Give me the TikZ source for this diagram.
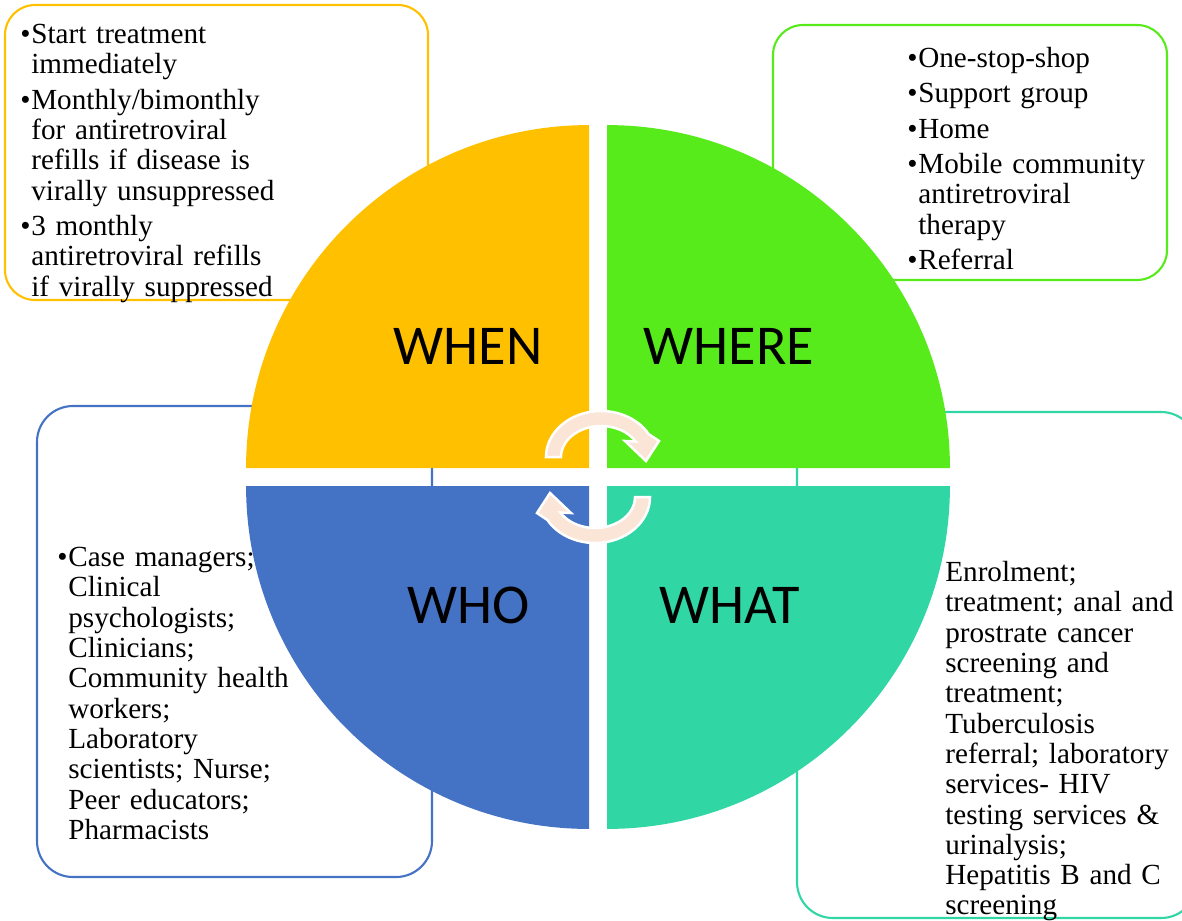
\documentclass[tikz,border=0pt]{standalone}
\usepackage{fontspec}
\setmainfont{Liberation Serif}
\newfontfamily\lblfont{Carlito}

\definecolor{whenc}{HTML}{FFC000}
\definecolor{wherec}{HTML}{57EB1B}
\definecolor{whoc}{HTML}{4472C4}
\definecolor{whatc}{HTML}{31D6A5}
\definecolor{peach}{HTML}{FBE5D6}

% bullet with hanging indent (first one, then the others)
\newcommand{\itmb}{\hangindent=0.22cm\hangafter=1\noindent\makebox[0.22cm][l]{\textbullet}}
\newcommand{\itm}{\par\itmb}

\tikzset{
  box/.style = {draw=#1, line width=1.2pt, fill=white},
  quad/.style = {fill=#1},
  lbl/.style = {font=\lblfont\fontsize{32}{38}\selectfont},
  list/.style = {anchor=north west, inner sep=0pt, text width=8cm, align=left,
    font=\fontsize{16.6}{17.25}\selectfont\setlength{\parskip}{0.1cm}},
  cyc/.style = {fill=peach, draw=white, line width=0.05cm, line join=miter}
}

\begin{document}
\begin{tikzpicture}[x=0.02cm, y=-0.02cm]
\useasboundingbox (0,0) rectangle (1182,920);
\clip (0,0) rectangle (1182,920);

% boxes behind the circle
\draw[box=whenc, rounded corners=0.6cm] (5,5) rectangle (428,300);
\draw[box=wherec, rounded corners=0.6cm] (773,25) rectangle (1167,280);
\draw[box=whoc, rounded corners=0.72cm] (37,406) rectangle (432,877);
\draw[box=whatc, rounded corners=0.72cm] (797,412) rectangle (1197,918);

% quadrants
\fill[quad=whenc] (589,468) -- ++(-6.86cm,0) arc[start angle=180, end angle=90, radius=6.86cm] -- cycle;
\fill[quad=wherec] (607,468) -- ++(0,6.86cm) arc[start angle=90, end angle=0, radius=6.86cm] -- cycle;
\fill[quad=whoc] (589,486) -- ++(-6.86cm,0) arc[start angle=180, end angle=270, radius=6.86cm] -- cycle;
\fill[quad=whatc] (607,486) -- ++(6.86cm,0) arc[start angle=0, end angle=-90, radius=6.86cm] -- cycle;

\node[lbl] (when) at (468,346) {WHEN};
\node[lbl] (where) at (729,346) {WHERE};
\node[lbl] (who) at (469,605) {WHO};
\node[lbl] (what) at (730,605) {WHAT};

% circular arrows in the middle
\foreach \r in {0,180}
  \path[cyc, rotate around={\r:(598,477)}] (546,457)
    arc[start angle=180, end angle=30, x radius=1.1cm, y radius=0.92cm]
    -- (659,441) -- (646,461) -- (625,441) -- (635.6,441.5)
    arc[start angle=30, end angle=180, x radius=0.8cm, y radius=0.62cm] -- cycle;

% texts
\node[list] (whentxt) at (20,24) {%
\itmb Start treatment\newline immediately
\itm Monthly/bimonthly\newline for antiretroviral\newline refills if disease is\newline virally unsuppressed
\itm 3 monthly\newline antiretroviral refills\newline if virally suppressed\par};

\node[list] (wheretxt) at (907,47) {%
\itmb One-stop-shop
\itm Support group
\itm Home
\itm Mobile community\newline antiretroviral\newline therapy
\itm Referral\par};

\node[list] (whotxt) at (57,547) {%
\itmb Case managers;\newline Clinical\newline psychologists;\newline Clinicians;\newline Community health\newline workers;\newline Laboratory\newline scientists; Nurse;\newline Peer educators;\newline Pharmacists\par};

\node[list] (whattxt) at (945,561) {%
\noindent Enrolment;\newline treatment; anal and\newline prostrate cancer\newline screening and\newline treatment;\newline Tuberculosis\newline referral; laboratory\newline services- HIV\newline testing services \&\newline urinalysis;\newline Hepatitis B and C\newline screening};
\end{tikzpicture}
\end{document}
